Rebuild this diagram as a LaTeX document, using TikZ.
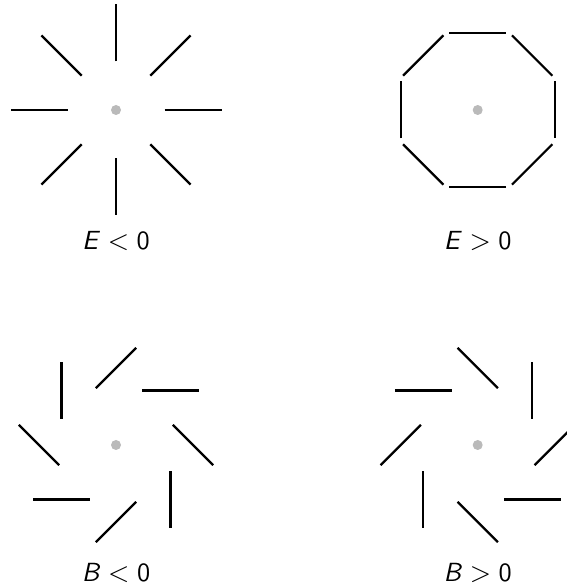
\documentclass[tikz,border=0pt]{standalone}
\usepackage{amsmath}
\usetikzlibrary{positioning}

\tikzset{
  stick/.style={line width=0.9pt},
  origin/.style={circle,fill=black!27,inner sep=0pt,minimum size=4pt},
  caption/.style={font=\sffamily\fontsize{10.5}{12}\selectfont,inner sep=0pt}
}

\begin{document}
\begin{tikzpicture}[x=0.4pt,y=0.4pt]
  \useasboundingbox (0,0) rectangle (567,588);
  % the four centres
  \node[origin] (eneg) at (116,478) {};
  \node[origin] (epos) at (477.7,478) {};
  \node[origin] (bneg) at (116,143) {};
  \node[origin] (bpos) at (477.7,143) {};
  % sticks round each centre
  \foreach \a in {0,45,...,315}{
    \draw[stick] (eneg.center) ++(\a:77) ++(\a+180:28.5) -- ++(\a:57);
    \draw[stick] (epos.center) ++(\a:77) ++(\a+90:28.5) -- ++(\a-90:57);
    \draw[stick] (bneg.center) ++(\a:77) ++(\a-45:28.5) -- ++(\a+135:57);
    \draw[stick] (bpos.center) ++(\a:77) ++(\a+45:28.5) -- ++(\a-135:57);
  }
  % captions
  \node[caption] (leneg) at (116,347) {\textit{E}${}<{}$0};
  \node[caption] (lepos) at (477.7,347) {\textit{E}${}>{}$0};
  \node[caption] (lbneg) at (116,15) {\textit{B}${}<{}$0};
  \node[caption] (lbpos) at (477.7,15) {\textit{B}${}>{}$0};
\end{tikzpicture}
\end{document}
